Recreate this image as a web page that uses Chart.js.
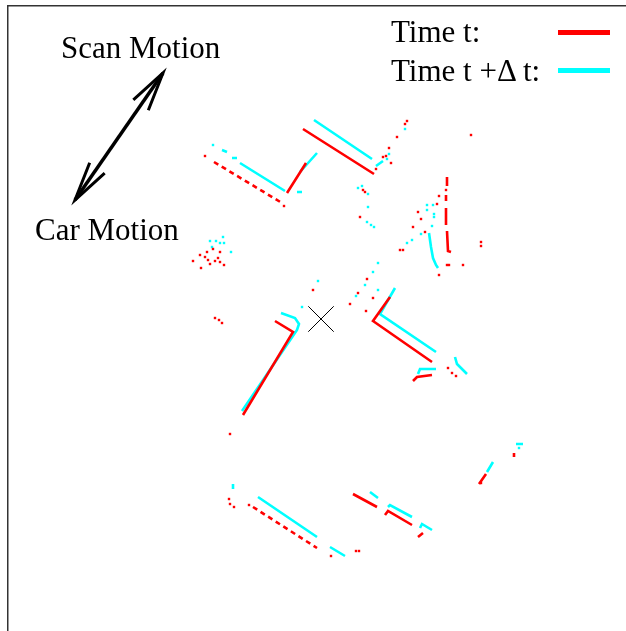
<!DOCTYPE html>
<html>
<head>
<meta charset="utf-8">
<script src="https://cdn.jsdelivr.net/npm/chart.js@4/dist/chart.umd.min.js"></script>
<style>
  body { margin: 0; background: #fff; }
  #wrap { position: relative; width: 626px; height: 631px; }
  .lbl { position: absolute; font-family: "Liberation Serif", "Times New Roman", serif; font-size: 31px; line-height: 31px; color: #000; white-space: pre; }
  .swatch { position: absolute; left: 558px; width: 52px; height: 5px; }
</style>
</head>
<body>
<div id="wrap">
  <canvas id="scanChart"></canvas>
  <div class="lbl" style="left:61px;top:32px">Scan Motion</div>
  <div class="lbl" style="left:35px;top:214px">Car Motion</div>
  <div class="lbl" style="left:391px;top:16px">Time t:</div>
  <div class="lbl" style="left:391px;top:55px">Time t +Δ t:</div>
  <div class="swatch" style="top:30px;background:#ff0000"></div>
  <div class="swatch" style="top:68px;background:#00ffff"></div>
</div>
<script>
// scan points in metres, sensor at the origin (x right, y forward)
const redSegs = [
    [[-3.4, 12.6], [-1.5, 15.6]],
    [[-1.8, 19.0], [5.3, 14.5]],
    [[-4.6, -0.2], [-2.8, -1.3], [-7.8, -9.6]],
    [[6.9, 2.2], [5.2, -0.2], [11.1, -4.3]],
    [[11.1, -5.6], [9.6, -5.8], [9.2, -6.2]],
    [[12.6, 14.2], [12.6, 13.3]],
    [[12.5, 12.4], [12.5, 11.8]],
    [[12.5, 11.1], [12.5, 9.4]],
    [[12.6, 8.8], [12.7, 6.8], [13.0, 6.7]],
    [[3.2, -17.5], [5.6, -18.8]],
    [[6.4, -19.6], [6.7, -19.2], [9.1, -20.6]],
    [[9.7, -21.8], [10.2, -21.4]],
    [[15.8, -16.5], [16.5, -15.5]],
    [[19.3, -13.4], [19.3, -13.8]]
];
const redDashSegs = [
    [[-10.7, 15.7], [-3.9, 11.6]],
    [[-6.8, -18.8], [-0.4, -22.9]]
];
const redDots = [
    [-11.6, 16.3], [8.6, 19.8], [8.4, 19.5], [7.6, 18.2], [6.8, 17.1], [6.2, 16.2], [6.5, 16.3],
    [7.0, 15.6], [5.5, 15.0], [15.0, 18.4], [4.2, 12.9], [4.4, 12.7], [3.9, 10.2],
    [12.5, 12.9], [11.8, 12.3], [11.6, 11.5], [9.7, 10.7], [10.0, 10.0], [9.2, 9.2], [10.4, 8.7],
    [7.9, 6.9], [8.2, 6.9], [12.6, 5.4], [12.8, 5.4], [14.2, 5.4], [11.8, 4.4], [4.6, 4.0],
    [16.0, 7.7], [16.0, 7.3],
    [-10.8, 7.0], [-11.4, 6.7], [-12.1, 6.4], [-11.6, 6.2], [-11.3, 5.9], [-12.8, 5.8], [-10.1, 6.7],
    [-10.3, 6.1], [-10.1, 5.7], [-12.0, 5.1], [-11.1, 5.5], [-9.7, 5.4], [-10.6, 5.8],
    [-10.6, 0.1], [-10.2, -0.1], [-9.9, -0.4], [-0.8, 2.9], [-9.1, -11.5],
    [2.9, 1.5], [3.7, 2.6], [4.5, 0.8], [5.2, 2.1], [12.7, -4.9], [13.1, -5.4], [13.5, -5.7],
    [-9.2, -18.0], [-9.1, -18.5], [-8.7, -18.8], [-7.2, -18.6], [1.0, -23.7], [3.5, -23.2], [3.8, -23.2],
    [16.0, -16.4], [-3.7, 11.3]
];
const cyanSegs = [
    [[-8.1, 15.6], [-3.6, 12.8]],
    [[-2.1, 14.7], [-0.4, 16.6]],
    [[-0.7, 19.9], [5.1, 16.0]],
    [[-4.0, 0.6], [-2.6, 0.1], [-2.2, -0.5], [-2.4, -1.1], [-7.9, -9.2]],
    [[7.4, 3.1], [5.9, 0.5], [11.5, -3.3]],
    [[9.7, -5.5], [9.9, -5.0], [11.5, -5.0]],
    [[10.8, 8.6], [11.0, 7.2], [11.2, 6.1], [11.5, 5.4], [11.7, 5.1]],
    [[13.4, -3.8], [13.6, -4.5], [14.6, -5.5]],
    [[-6.3, -17.8], [-0.4, -21.8]],
    [[0.9, -22.8], [2.4, -23.7]],
    [[4.9, -17.3], [5.7, -17.9]],
    [[6.7, -18.8], [6.9, -18.6], [9.1, -19.8]],
    [[9.9, -20.9], [10.1, -20.5], [11.1, -21.1]],
    [[-8.8, -16.5], [-8.8, -17.0]],
    [[19.5, -12.5], [20.2, -12.5]],
    [[16.6, -15.3], [17.2, -14.3]],
    [[5.5, 15.3], [6.2, 15.8]],
    [[-9.9, 16.9], [-9.4, 16.7]],
    [[-8.9, 16.1], [-8.4, 16.1]],
    [[-2.4, 12.7], [-1.9, 12.7]]
];
const cyanDots = [
    [-10.8, 17.4], [8.4, 19.0], [6.6, 16.0], [6.8, 16.5], [3.7, 13.1], [4.1, 13.3], [4.7, 12.5],
    [4.7, 11.2], [4.6, 9.7], [5.0, 9.4], [5.3, 9.2], [10.6, 11.4], [11.2, 11.4], [10.6, 10.9],
    [11.3, 10.5], [11.3, 10.2], [11.1, 9.3], [10.0, 8.5], [9.1, 7.9], [8.6, 7.6], [5.7, 5.6], [5.2, 4.7],
    [-11.1, 7.8], [-10.5, 7.8], [-9.8, 8.2], [-9.7, 7.6], [-10.1, 7.6], [-10.9, 7.2], [-9.0, 6.7],
    [-1.9, 1.2], [-0.3, 3.8], [3.5, 2.3], [4.4, 3.4], [5.7, 2.9], [19.8, -12.9]
];
const sensor = [[0, 0]];
const arrowEnds = [[-24.6, 11.9], [-15.8, 24.6]];

const red = '#ff0000';
const cyan = '#00ffff';

function segData(segs) {
    const out = [];
    segs.forEach((s, i) => {
        if (i > 0) out.push({ x: null, y: null });
        s.forEach(p => out.push({ x: p[0], y: p[1] }));
    });
    return out;
}
const pts = arr => arr.map(p => ({ x: p[0], y: p[1] }));

function lineSet(label, segs, color, order, dash) {
    return {
        label: label, data: segData(segs), showLine: true, spanGaps: false,
        borderColor: color, borderWidth: 2.6, borderDash: dash || [],
        pointRadius: 0, order: order
    };
}
function dotSet(label, arr, color, order) {
    return {
        label: label, data: pts(arr), showLine: false,
        pointStyle: 'rect', pointRadius: 1.7, borderWidth: 0,
        backgroundColor: color, order: order
    };
}

const arrowPlugin = {
    id: 'motionArrow',
    afterDatasetsDraw(chart) {
        const { ctx, scales: { x, y } } = chart;
        const [a, b] = arrowEnds.map(p => [x.getPixelForValue(p[0]), y.getPixelForValue(p[1])]);
        ctx.save();
        ctx.strokeStyle = '#000';
        ctx.lineWidth = 3.5;
        ctx.beginPath();
        ctx.moveTo(a[0], a[1]);
        ctx.lineTo(b[0], b[1]);
        ctx.stroke();
        ctx.lineWidth = 3;
        ctx.lineJoin = 'miter';
        [[a, b], [b, a]].forEach(([from, tip]) => {
            const ang = Math.atan2(tip[1] - from[1], tip[0] - from[0]) + Math.PI;
            ctx.beginPath();
            ctx.moveTo(tip[0] + Math.cos(ang - 0.23) * 40, tip[1] + Math.sin(ang - 0.23) * 40);
            ctx.lineTo(tip[0], tip[1]);
            ctx.lineTo(tip[0] + Math.cos(ang + 0.23) * 40, tip[1] + Math.sin(ang + 0.23) * 40);
            ctx.stroke();
        });
        ctx.restore();
    }
};

new Chart(document.getElementById('scanChart'), {
    type: 'scatter',
    data: {
        datasets: [
            lineSet('Time t', redSegs, red, 1),
            lineSet('Time t', redDashSegs, red, 1, [5, 4]),
            dotSet('Time t', redDots, red, 1),
            lineSet('Time t +Δ t', cyanSegs, cyan, 2),
            dotSet('Time t +Δ t', cyanDots, cyan, 2),
            {
                label: 'sensor', data: pts(sensor), pointStyle: 'crossRot',
                pointRadius: 18, borderColor: '#000', borderWidth: 1, order: 0
            }
        ]
    },
    options: {
        responsive: true,
        maintainAspectRatio: false,
        animation: false,
        layout: { autoPadding: false, padding: { left: 8, top: 6, right: 0, bottom: 0 } },
        plugins: { legend: { display: false }, tooltip: { enabled: false } },
        scales: {
            x: {
                type: 'linear', position: 'top', min: -31.3, max: 30.5,
                ticks: { display: false }, grid: { display: false },
                border: { display: true, color: '#333', width: 1.5 },
                afterFit: s => { s.height = 0; }
            },
            y: {
                type: 'linear', position: 'left', min: -31.2, max: 31.3,
                ticks: { display: false }, grid: { display: false },
                border: { display: true, color: '#333', width: 1.5 },
                afterFit: s => { s.width = 0; }
            }
        }
    },
    plugins: [arrowPlugin]
});
</script>
</body>
</html>
